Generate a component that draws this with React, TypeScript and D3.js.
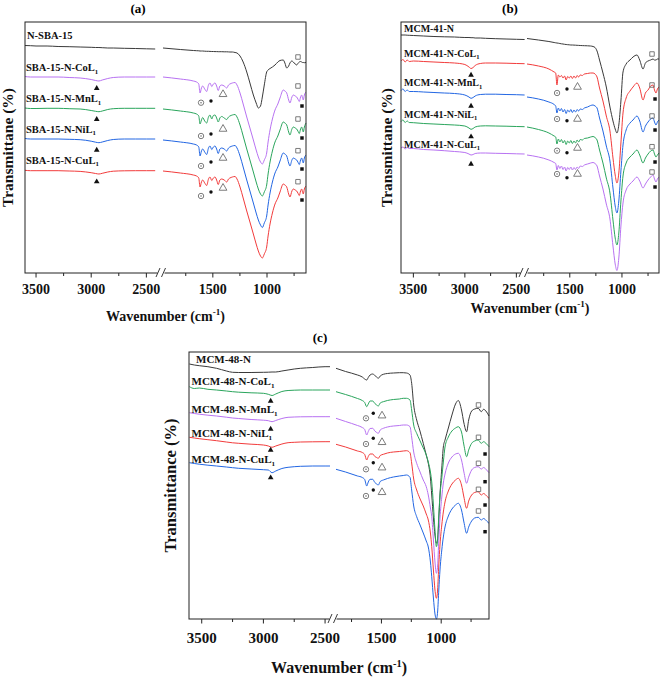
import React from "react";
import * as d3 from "d3";

// ---------------- DATA (transmittance, arbitrary units) ----------------
// Panel (a)
const WA_L = [3600, 3550, 3500, 3400, 3300, 3200, 3100, 3000, 2960, 2930, 2900, 2850, 2800, 2700, 2600, 2500, 2420];
const WA_R = [1960, 1800, 1680, 1650, 1630, 1618, 1605, 1594, 1575, 1557, 1540, 1526, 1510, 1495, 1480, 1465, 1450, 1435, 1418, 1395, 1372, 1355, 1342, 1320, 1295, 1277, 1249, 1220, 1187, 1155, 1126, 1100, 1080, 1060, 1043, 1025, 1003, 990, 972, 950, 926, 900, 880, 850, 835, 818, 800, 788, 770, 757, 740, 726, 715, 702, 690, 680, 672, 665, 655, 640];
const A_N_L = [227.5, 227.3, 227, 227, 226.5, 226.3, 226, 225.7, 225.5, 225.5, 225.3, 225, 225, 224.7, 224.5, 224.2, 224];
const A_Co_L = [196.5, 196, 196, 196, 196, 195.5, 195, 193.5, 192.5, 192, 193, 194.5, 195.5, 196, 196, 196, 196];
const A_Mn_L = [165, 164.5, 164.5, 164.7, 164.7, 164.3, 164, 162.5, 161.7, 161.3, 162, 163.5, 164.3, 164.7, 164.7, 164.7, 164.7];
const A_Ni_L = [134.5, 134, 134, 134, 134, 133.7, 133.3, 131.8, 130.8, 130.3, 131, 132.5, 133.5, 134, 134, 134, 134];
const A_Cu_L = [102.7, 102.3, 102.3, 102.3, 102.3, 102, 101.6, 100.3, 99.5, 99, 99.7, 101, 101.8, 102.2, 102.3, 102.3, 102.3];
const A_N_R = [225, 223.5, 222.5, 222.3, 222.2, 222, 222, 222, 221.8, 221.7, 221.7, 221.6, 221.5, 221.5, 221.4, 221.4, 221.3, 221.3, 221.3, 221.2, 221.2, 221.1, 221, 221, 220.5, 220, 217, 211, 201, 189, 178, 170, 165, 167, 176, 188, 201, 203, 204.5, 206, 208, 211, 212.5, 213, 210, 205, 207, 210, 212, 211, 209, 208, 209.5, 211, 211.5, 211, 210.5, 210.5, 210.3, 210.5];
const A_Co_R = [196, 194, 192, 191, 189, 180, 185, 187, 184, 181.5, 188, 190, 186.5, 189, 190, 187, 182.5, 187, 188, 187, 185, 188, 189, 190, 190.5, 188, 180, 169, 156, 144, 133, 123, 116, 111, 109, 113, 120, 131, 143, 154, 163, 169, 175, 183, 182, 180, 173, 170, 176, 178, 177, 176, 174, 171.5, 176, 178, 175, 173, 178, 181];
const A_Mn_R = [164, 162, 160, 159, 157, 149, 153, 155.5, 152, 150, 156, 158, 154, 157.5, 158, 155, 151, 155, 156.5, 155, 153.5, 156, 157, 158, 158.5, 156, 148, 137, 124, 112, 101, 91, 84, 79, 77, 81, 88, 99, 111, 122, 131, 137, 143, 151, 150, 148, 141, 138, 144, 146, 145, 144, 142, 139.5, 144, 146, 143, 141, 146, 150];
const A_Ni_R = [133, 131, 129, 128, 126, 117, 122, 124, 121, 118.5, 125, 127, 123.5, 126, 127, 124, 119.5, 124, 125, 124, 122, 125, 126, 127, 127.5, 125, 117, 106, 93, 81, 70, 60, 53, 48, 45.5, 50, 57, 68, 80, 91, 100, 106, 112, 120, 119, 117, 110, 107, 113, 115, 114, 113, 111, 108.5, 113, 115, 112, 110, 115, 118];
const A_Cu_R = [102, 100, 98, 97, 95, 86, 91, 93, 90, 87.5, 94, 96, 92.5, 95, 96, 93, 88.5, 93, 94, 93, 91, 94, 95, 96, 96.5, 94, 86, 75, 62, 50, 39, 29, 22, 17, 15, 19, 26, 37, 49, 60, 69, 75, 81, 89, 88, 86, 79, 76, 82, 84, 83, 82, 80, 77.5, 82, 84, 81, 79, 84, 87];

// Panel (b)
const WB_L = [3620, 3600, 3580, 3560, 3540, 3500, 3400, 3300, 3200, 3100, 3000, 2960, 2940, 2920, 2900, 2850, 2800, 2700, 2600, 2500, 2420];
const WB_R = [1910, 1800, 1700, 1650, 1635, 1623, 1610, 1595, 1580, 1565, 1550, 1535, 1520, 1505, 1490, 1475, 1460, 1445, 1430, 1415, 1400, 1380, 1360, 1330, 1300, 1277, 1258, 1239, 1215, 1182, 1150, 1115, 1086, 1065, 1048, 1030, 1010, 990, 960, 923, 894, 856, 830, 798, 775, 750, 725, 702, 688, 674, 660, 645];
const B_N_L = [238, 238, 238, 237.8, 237.7, 237.5, 237, 236.5, 236.2, 236, 235.5, 235.5, 235.3, 235.3, 235, 235, 234.7, 234.3, 234, 233.7, 233.5];
const B_Co_L = [212, 213.5, 211, 213, 211.5, 212, 211.5, 211, 210.5, 210, 208.5, 206, 204.5, 205.5, 207.5, 209.5, 210, 210, 209.8, 209.5, 209.3];
const B_Mn_L = [182.5, 184, 181.5, 183, 181.5, 181.5, 181, 180.5, 180, 179.5, 178, 176, 174.7, 175.5, 177, 178.5, 178.8, 178.8, 178.5, 178.3, 178];
const B_Ni_L = [151.5, 153, 150.5, 152, 150.5, 150.3, 149.5, 149, 148.5, 148, 147, 145, 143.7, 144.5, 146, 147, 147.2, 147, 146.8, 146.5, 146.3];
const B_Cu_L = [125, 126, 124, 125.5, 124.5, 124.5, 123.5, 123, 122.3, 121.5, 120.5, 119, 118, 118.5, 119.5, 120, 120, 119.7, 119.5, 119.2, 119];
const B_N_R = [234.5, 233, 231.5, 230.5, 230.2, 230, 229.8, 229.5, 229.2, 229, 228.7, 228.5, 228.3, 228.2, 228, 228, 227.9, 227.8, 227.7, 227.6, 227.5, 227.4, 227.3, 227.2, 227, 226.5, 225.5, 222, 213, 200, 186, 166, 152, 144, 140, 148, 172, 201, 209, 213, 216, 218, 213, 204, 210, 212, 213, 214, 213, 213, 214, 214];
const B_Co_R = [209, 207, 204, 201, 200, 188, 198, 196, 197.5, 195, 197, 193, 196.5, 195, 197, 194.5, 197, 195, 197.5, 196, 198, 197.5, 199, 199.5, 200, 200, 199, 196, 185, 172, 157, 142, 115, 98, 90, 100, 130, 160, 175, 182, 186, 190, 185, 173, 180, 183, 187, 188, 183, 180, 184, 186];
const B_Mn_R = [176, 174, 171, 168.5, 167, 160, 165, 162, 164.5, 161, 163.5, 159.5, 163, 161, 163.5, 160.5, 163, 161, 163.5, 162, 164, 163.5, 165, 166, 167.5, 168, 167, 165, 155, 142, 127, 112, 85, 67, 60, 72, 102, 128, 143, 150, 153, 157, 152, 141, 147, 151, 154, 155, 151, 148, 151, 153];
const B_Ni_R = [146, 143.5, 140, 137, 136, 129, 134, 131, 133.5, 130, 132.5, 128.5, 132, 130, 132.5, 129.5, 132, 130, 133, 131, 133.5, 133, 134.5, 135, 136, 136.5, 135.5, 133, 123, 110, 95, 80, 53, 35, 28, 40, 72, 97, 110, 116, 119, 123, 118, 110, 115, 119, 122, 123, 119, 116, 118, 120];
const B_Cu_R = [118, 116, 113, 110.5, 109.5, 103, 107.5, 104.5, 107, 103.5, 106, 102, 105.5, 103.5, 106, 103, 105.5, 103.5, 106, 104.5, 107, 106.5, 108, 109, 110, 110.5, 109.5, 107, 97, 84, 69, 54, 27, 9, 2.5, 15, 47, 70, 83, 89, 92, 96, 92, 85, 89, 93, 96, 98, 94, 91, 94, 96];

// Panel (c)
const WC_L = [3600, 3560, 3520, 3450, 3380, 3300, 3250, 3200, 3100, 3000, 2960, 2930, 2900, 2850, 2800, 2750, 2700, 2600, 2500, 2460];
const WC_R = [1880, 1800, 1700, 1660, 1640, 1623, 1610, 1595, 1573, 1555, 1540, 1526, 1510, 1484, 1450, 1400, 1350, 1317, 1290, 1261, 1247, 1230, 1205, 1180, 1150, 1125, 1108, 1090, 1079, 1065, 1052, 1040, 1030, 1020, 1010, 995, 982, 968, 940, 910, 880, 857, 830, 810, 787, 770, 745, 720, 690, 665, 645, 620, 600];
const C_N_L = [255, 254, 253.3, 252.3, 250.7, 248, 246.7, 246.5, 246.5, 246.7, 246.8, 247, 247, 248, 249, 250, 250.7, 251.5, 252.3, 252.3];
const C_Co_L = [232.3, 230.5, 231, 229.7, 229, 228, 227.3, 226.8, 226.2, 225.7, 224.7, 223.5, 225, 227.5, 228.5, 228.8, 229, 229, 229, 229];
const C_Mn_L = [206.3, 205.5, 204.8, 203.8, 203, 201.8, 201, 200.5, 199.5, 198.8, 198.3, 197.3, 198.5, 200.5, 201.7, 202, 202.2, 202.3, 202.3, 202.3];
const C_Ni_L = [181.7, 181, 180.3, 179.3, 178.3, 177, 176.2, 175.7, 174.8, 174, 173, 171.7, 173, 175, 176.3, 176.7, 177, 177.2, 177.3, 177.3];
const C_Cu_L = [156.3, 155.5, 154.8, 153.8, 153, 152, 151.3, 150.7, 150, 149.3, 149, 146.3, 148, 150.5, 151.7, 152.3, 152.7, 153, 153, 153];
const C_N_R = [250.7, 247.5, 244, 242, 240, 239, 241.5, 244, 245, 243.5, 242, 240.7, 243, 244.7, 245.5, 246, 246.3, 246.3, 246, 244, 235.7, 214, 199, 189, 175.7, 164, 155.7, 141, 124, 101, 84, 75.7, 79, 99, 124, 151, 172, 179, 191, 204, 215, 218.5, 209, 196, 187.3, 199, 208, 210, 210.7, 207.3, 209.7, 207, 203];
const C_Co_R = [227.3, 224.5, 220.5, 218.5, 216.5, 212.3, 215, 218, 218, 215.5, 214, 213, 216, 217.3, 218.5, 219.5, 220, 220.7, 220.7, 219, 209, 194, 185.7, 179, 171, 164, 157, 147, 137, 114, 89, 72.3, 79, 104, 124, 141, 157, 172, 182, 188, 191, 192.3, 187, 174, 162.3, 169, 175.7, 178, 179, 175.7, 177.3, 175, 172.3];
const C_Mn_R = [200.7, 197.5, 193.5, 191.5, 189.5, 184, 187.5, 190.5, 190.7, 188, 186.5, 185.7, 189, 190.7, 192, 193, 193.5, 194, 194, 192.3, 182, 167, 155.7, 148, 139, 132.3, 124, 111, 102.3, 79, 57, 45.7, 53, 79, 101, 122, 136, 145, 156, 162, 165, 165.7, 159, 147, 135.7, 142, 149, 151.5, 152.3, 150, 151.5, 149, 146.3];
const C_Ni_R = [174.7, 172, 168, 166.5, 164.5, 159, 162.5, 165, 165, 162.5, 161.5, 160.7, 163.5, 164.7, 166, 167, 167.5, 168, 168.3, 166.3, 156, 140, 129, 121, 113, 105, 99, 86, 72.3, 49, 29, 20.7, 29, 54, 74, 94, 107, 117, 128, 135, 139, 140.7, 134, 122, 110.7, 118, 124, 126.5, 127.3, 124, 125.5, 123, 120.7];
const C_Cu_R = [149.7, 147, 143, 141.5, 139.5, 133, 137, 139.7, 139.7, 136.5, 135, 134, 137.5, 139, 140.5, 142, 143, 143.5, 144, 141.7, 129, 113, 102.3, 95, 86, 78, 72, 57, 42.3, 21, 5, 0, 7, 29, 49, 69, 82, 92, 103, 110, 114, 115.7, 109, 97, 85.7, 92, 98, 101, 101.7, 99, 100.5, 98, 95.7];

// Band-assignment markers: [wavenumber, transmittance]
const A_TRI = [[2950, 184.7], [2950, 153.7], [2950, 123], [2950, 91.3]];
const A_ODOT = [[1609, 170.3], [1609, 137], [1609, 107], [1609, 77]];
const A_DOT = [[1517, 172], [1517, 139], [1517, 111], [1517, 81]];
const A_OTRI = [[1406, 178.7], [1406, 144], [1406, 115], [1406, 85]];
const A_OSQ = [[714, 216], [714, 187], [714, 154], [714, 122.3], [714, 91.3]];
const A_SQ = [[677, 167], [677, 135], [677, 104], [677, 73]];

const B_TRI = [[2940, 198], [2940, 167], [2940, 136.3], [2940, 109]];
const B_ODOT = [[1622, 180], [1622, 154], [1622, 122.3], [1622, 99]];
const B_DOT = [[1527, 184], [1527, 152.3], [1527, 120.3], [1527, 95.3]];
const B_OTRI = [[1426, 186], [1426, 154], [1426, 125], [1426, 99]];
const B_OSQ = [[712, 219], [712, 188], [712, 157], [712, 126.3], [712, 101]];
const B_SQ = [[683, 174], [683, 143], [683, 111], [683, 86]];

const C_TRI = [[2941, 218], [2941, 190], [2941, 169], [2941, 141.3]];
const C_ODOT = [[1629, 200.7], [1629, 175], [1629, 149.7], [1629, 123]];
const C_DOT = [[1568, 205.7], [1568, 180.7], [1568, 156.3], [1568, 129]];
const C_OTRI = [[1495, 203.3], [1495, 176.7], [1495, 151.3], [1495, 126.7]];
const C_OSQ = [[688, 214], [688, 181.7], [688, 155.7], [688, 129.7], [688, 108]];
const C_SQ = [[633, 165], [633, 137.3], [633, 114], [633, 87.3]];

const TICKS_L = [3500, 3250, 3000, 2750, 2500];
const TICKS_R = [1750, 1500, 1250, 1000, 750];
const TICK_LABELS = [3500, 3000, 2500, 1500, 1000];

const NAMES_A = ["N-SBA-15", "SBA-15-N-CoL", "SBA-15-N-MnL", "SBA-15-N-NiL", "SBA-15-N-CuL"];
const NAMES_B = ["MCM-41-N", "MCM-41-N-CoL", "MCM-41-N-MnL", "MCM-41-N-NiL", "MCM-41-N-CuL"];
const NAMES_C = ["MCM-48-N", "MCM-48-N-CoL", "MCM-48-N-MnL", "MCM-48-N-NiL", "MCM-48-N-CuL"];

// ---------------- STYLE / LAYOUT ----------------
const C_BLACK = "#3a3a3a";
const C_PURPLE = "#b872f2";
const C_GREEN = "#2aa55c";
const C_BLUE = "#2266e3";
const C_RED = "#f23b3b";
const GRAY = "#6d6d6d";
const FONT = "'Liberation Serif', 'Times New Roman', serif";

type Pt = number[];
interface Panel {
  title: string;
  titleX: number;
  titleY: number;
  frame: { x0: number; x1: number; y0: number; y1: number };
  tmax: number;
  left: { d: [number, number]; r: [number, number] };
  right: { d: [number, number]; r: [number, number] };
  breakX: number;
  wl: number[];
  wr: number[];
  series: { L: number[]; R: number[]; color: string }[];
  names: string[];
  labelX: number[];
  labelY: number[];
  labelSize: number;
  tickSize: number;
  xTitleY: number;
  xTitleSize: number;
  yTitle: string;
  yTitleX: number;
  yTitleSize: number;
  tickLabelY: number;
  markers: { sym: string; seg: "L" | "R"; pts: Pt[] }[];
}

const panels: Panel[] = [
  {
    title: "(a)", titleX: 138, titleY: 13,
    frame: { x0: 25, x1: 306, y0: 22, y1: 273 }, tmax: 251,
    left: { d: [3600, 2400], r: [25, 157.4] },
    right: { d: [1960, 640], r: [163, 306] },
    breakX: 161,
    wl: WA_L, wr: WA_R,
    series: [
      { L: A_N_L, R: A_N_R, color: C_BLACK },
      { L: A_Co_L, R: A_Co_R, color: C_PURPLE },
      { L: A_Mn_L, R: A_Mn_R, color: C_GREEN },
      { L: A_Ni_L, R: A_Ni_R, color: C_BLUE },
      { L: A_Cu_L, R: A_Cu_R, color: C_RED },
    ],
    names: NAMES_A,
    labelX: [27, 26, 26, 26, 26], labelY: [39, 71, 102, 132.5, 163.5], labelSize: 10.5,
    tickSize: 14, tickLabelY: 294, xTitleY: 321, xTitleSize: 14,
    yTitle: "Transmittane (%)", yTitleX: 12.5, yTitleSize: 15.5,
    markers: [
      { sym: "tri", seg: "L", pts: A_TRI }, { sym: "odot", seg: "R", pts: A_ODOT },
      { sym: "dot", seg: "R", pts: A_DOT }, { sym: "otri", seg: "R", pts: A_OTRI },
      { sym: "osq", seg: "R", pts: A_OSQ }, { sym: "sq", seg: "R", pts: A_SQ },
    ],
  },
  {
    title: "(b)", titleX: 510, titleY: 13,
    frame: { x0: 401, x1: 659, y0: 22, y1: 273 }, tmax: 251,
    left: { d: [3620, 2420], r: [401, 524.6] },
    right: { d: [1910, 645], r: [527, 659] },
    breakX: 524,
    wl: WB_L, wr: WB_R,
    series: [
      { L: B_N_L, R: B_N_R, color: C_BLACK },
      { L: B_Co_L, R: B_Co_R, color: C_RED },
      { L: B_Mn_L, R: B_Mn_R, color: C_BLUE },
      { L: B_Ni_L, R: B_Ni_R, color: C_GREEN },
      { L: B_Cu_L, R: B_Cu_R, color: C_PURPLE },
    ],
    names: NAMES_B,
    labelX: [404, 404, 404, 404, 404], labelY: [31.5, 56.5, 86, 117.5, 147.5], labelSize: 10,
    tickSize: 14, tickLabelY: 294, xTitleY: 313, xTitleSize: 14,
    yTitle: "Transmittane (%)", yTitleX: 392, yTitleSize: 15.5,
    markers: [
      { sym: "tri", seg: "L", pts: B_TRI }, { sym: "odot", seg: "R", pts: B_ODOT },
      { sym: "dot", seg: "R", pts: B_DOT }, { sym: "otri", seg: "R", pts: B_OTRI },
      { sym: "osq", seg: "R", pts: B_OSQ }, { sym: "sq", seg: "R", pts: B_SQ },
    ],
  },
  {
    title: "(c)", titleX: 320, titleY: 342,
    frame: { x0: 189, x1: 489, y0: 352, y1: 619 }, tmax: 267,
    left: { d: [3600, 2460], r: [189.4, 330] },
    right: { d: [1880, 600], r: [336, 489] },
    breakX: 333,
    wl: WC_L, wr: WC_R,
    series: [
      { L: C_N_L, R: C_N_R, color: C_BLACK },
      { L: C_Co_L, R: C_Co_R, color: C_GREEN },
      { L: C_Mn_L, R: C_Mn_R, color: C_PURPLE },
      { L: C_Ni_L, R: C_Ni_R, color: C_RED },
      { L: C_Cu_L, R: C_Cu_R, color: C_BLUE },
    ],
    names: NAMES_C,
    labelX: [196, 191.5, 191.5, 191.5, 191.5], labelY: [363.3, 385, 412.7, 437.3, 463.3], labelSize: 11,
    tickSize: 15, tickLabelY: 643, xTitleY: 673, xTitleSize: 16,
    yTitle: "Transmittance (%)", yTitleX: 176, yTitleSize: 16.5,
    markers: [
      { sym: "tri", seg: "L", pts: C_TRI }, { sym: "odot", seg: "R", pts: C_ODOT },
      { sym: "dot", seg: "R", pts: C_DOT }, { sym: "otri", seg: "R", pts: C_OTRI },
      { sym: "osq", seg: "R", pts: C_OSQ }, { sym: "sq", seg: "R", pts: C_SQ },
    ],
  },
];

const triFilled = d3.symbol().type(d3.symbolTriangle).size(14)() as string;
const triOpen = d3.symbol().type(d3.symbolTriangle).size(26)() as string;
const sqOpen = d3.symbol().type(d3.symbolSquare).size(20)() as string;
const sqFilled = d3.symbol().type(d3.symbolSquare).size(12)() as string;

function Marker({ sym, x, y }: { sym: string; x: number; y: number }) {
  const t = `translate(${x},${y})`;
  switch (sym) {
    case "tri":
      return <path d={triFilled} transform={t} fill="#111" />;
    case "otri":
      return <path d={triOpen} transform={t} fill="none" stroke={GRAY} strokeWidth={0.9} />;
    case "osq":
      return <path d={sqOpen} transform={t} fill="none" stroke={GRAY} strokeWidth={0.9} />;
    case "sq":
      return <path d={sqFilled} transform={t} fill="#111" />;
    case "dot":
      return <circle cx={x} cy={y} r={1.7} fill="#111" />;
    case "odot":
      return (
        <g>
          <circle cx={x} cy={y} r={2.7} fill="none" stroke={GRAY} strokeWidth={0.9} />
          <circle cx={x} cy={y} r={0.8} fill={GRAY} />
        </g>
      );
    default:
      return null;
  }
}

function PanelView({ p }: { p: Panel }) {
  const xL = d3.scaleLinear().domain(p.left.d).range(p.left.r);
  const xR = d3.scaleLinear().domain(p.right.d).range(p.right.r);
  const y = d3.scaleLinear().domain([0, p.tmax]).range([p.frame.y1, p.frame.y0]);
  const line = d3
    .line<number[]>()
    .x((d) => d[0])
    .y((d) => d[1])
    .curve(d3.curveMonotoneX);
  const f = p.frame;
  const cx = (f.x0 + f.x1) / 2;
  const cy = (f.y0 + f.y1) / 2;
  const tickX = (v: number) => (v > 2200 ? xL(v) : xR(v));
  return (
    <g>
      <text x={p.titleX} y={p.titleY} textAnchor="middle" fontFamily={FONT} fontWeight="bold" fontSize={13}>
        {p.title}
      </text>
      {p.series.map((s, i) => (
        <g key={i} fill="none" stroke={s.color} strokeWidth={1}>
          <path d={line(p.wl.map((w, j) => [xL(w), y(s.L[j])])) || ""} />
          <path d={line(p.wr.map((w, j) => [xR(w), y(s.R[j])])) || ""} />
        </g>
      ))}
      {p.markers.map((m, i) =>
        m.pts.map((pt, j) => (
          <Marker key={`${i}-${j}`} sym={m.sym} x={(m.seg === "L" ? xL : xR)(pt[0])} y={y(pt[1])} />
        ))
      )}
      {p.names.map((n, i) => (
        <text key={n} x={p.labelX[i]} y={p.labelY[i]} fontFamily={FONT} fontWeight="bold" fontSize={p.labelSize} fill="#111">
          {n}
          {i > 0 ? (
            <tspan fontSize={p.labelSize * 0.65} dy={p.labelSize * 0.28}>
              1
            </tspan>
          ) : null}
        </text>
      ))}
      <rect x={f.x0} y={f.y0} width={f.x1 - f.x0} height={f.y1 - f.y0} fill="none" stroke="#222" strokeWidth={1} />
      {TICKS_L.map((v) => (
        <line key={`l${v}`} x1={xL(v)} x2={xL(v)} y1={f.y1} y2={f.y1 + (v % 500 === 0 ? 4.5 : 3)} stroke="#222" strokeWidth={1} />
      ))}
      {TICKS_R.map((v) => (
        <line key={`r${v}`} x1={xR(v)} x2={xR(v)} y1={f.y1} y2={f.y1 + (v % 500 === 0 ? 4.5 : 3)} stroke="#222" strokeWidth={1} />
      ))}
      <rect x={p.breakX - 3.5} y={f.y1 - 1} width={7} height={2} fill="#fff" />
      <line x1={p.breakX - 5} y1={f.y1 + 4} x2={p.breakX - 1} y2={f.y1 - 5} stroke="#222" strokeWidth={0.9} />
      <line x1={p.breakX + 0.5} y1={f.y1 + 4} x2={p.breakX + 4.5} y2={f.y1 - 5} stroke="#222" strokeWidth={0.9} />
      {TICK_LABELS.map((v) => (
        <text key={`t${v}`} x={tickX(v)} y={p.tickLabelY} textAnchor="middle" fontFamily={FONT} fontWeight="bold" fontSize={p.tickSize} fill="#111">
          {v}
        </text>
      ))}
      <text x={cx} y={p.xTitleY} textAnchor="middle" fontFamily={FONT} fontWeight="bold" fontSize={p.xTitleSize} fill="#111">
        Wavenumber (cm
        <tspan fontSize={p.xTitleSize * 0.65} dy={-p.xTitleSize * 0.4}>
          -1
        </tspan>
        <tspan dy={p.xTitleSize * 0.4}>)</tspan>
      </text>
      <text
        transform={`translate(${p.yTitleX},${cy}) rotate(-90)`}
        textAnchor="middle"
        fontFamily={FONT}
        fontWeight="bold"
        fontSize={p.yTitleSize}
        fill="#111"
      >
        {p.yTitle}
      </text>
    </g>
  );
}

export default function App() {
  return (
    <svg
      width={661}
      height={679}
      viewBox="0 0 661 679"
      style={{ position: "absolute", left: 0, top: 0, background: "#fff" }}
    >
      <rect x={0} y={0} width={661} height={679} fill="#fff" />
      {panels.map((p) => (
        <PanelView key={p.title} p={p} />
      ))}
    </svg>
  );
}
